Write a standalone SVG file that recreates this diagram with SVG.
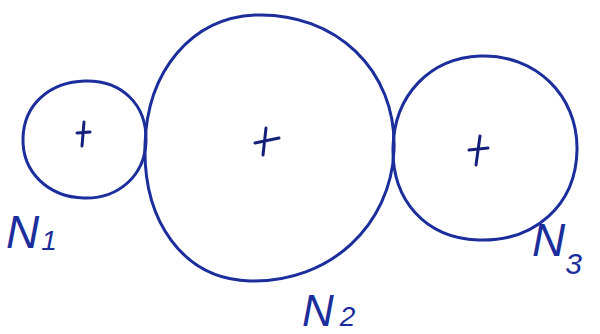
<svg xmlns="http://www.w3.org/2000/svg" width="600" height="334" viewBox="0 0 600 334">
<style>
.c{fill:none;stroke:#1b2e9c;stroke-width:3;stroke-linecap:round;stroke-linejoin:round}
.m{fill:none;stroke:#14207a;stroke-width:3;stroke-linecap:round}
.t{font-family:"Liberation Sans",Arial,sans-serif;font-style:italic;fill:#1b2e9c}
</style>
<rect width="600" height="334" fill="#fff"/>
<g id="N1">
<path class="c" d="M85 81 C121 80 147 104 146 141 C145 176 118 199 84 198 C48 197 22 172 23 138 C24 104 50 82 85 81 Z"/>
<path class="m" d="M84 122 L82 146 M77 133 L90 132"/>
<text class="t" x="6" y="248" font-size="46">N<tspan font-size="28" dx="2" dy="2">1</tspan></text>
</g>
<g id="N2">
<path class="c" d="M255 15 C335 12 397 70 394 150 C391 225 330 283 250 281 C182 279 143 220 145 145 C147 70 192 18 255 15 Z"/>
<path class="m" d="M266 128 L263 155 M255 143 L279 138"/>
<text class="t" x="302" y="326" font-size="44">N<tspan font-size="28" dx="6" dy="0">2</tspan></text>
</g>
<g id="N3">
<path class="c" d="M480 56 C535 54 578 95 577 150 C576 205 535 242 478 240 C425 238 392 200 393 148 C394 95 430 58 480 56 Z"/>
<path class="m" d="M480 136 L476 165 M469 150 L488 148"/>
<text class="t" x="532" y="256" font-size="46">N<tspan font-size="30" dx="0" dy="18">3</tspan></text>
</g>
</svg>
